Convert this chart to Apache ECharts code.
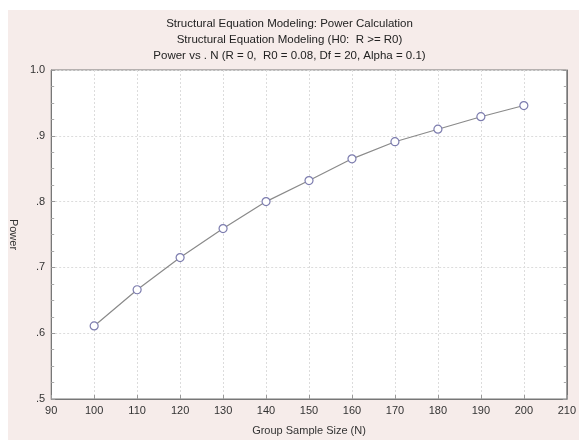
<!doctype html>
<html>
<head>
<meta charset="UTF-8">
<title>Power vs N</title>
<script src="https://cdn.jsdelivr.net/npm/echarts@6/dist/echarts.min.js"></script>
<style>
  html, body { margin: 0; padding: 0; background: #fff; }
  #main { width: 579px; height: 441px; }
</style>
</head>
<body>
<div id="main"></div>
<script>
// data
var sampleSize = [100, 110, 120, 130, 140, 150, 160, 170, 180, 190, 200];
var power = [0.611, 0.666, 0.715, 0.759, 0.800, 0.832, 0.865, 0.891, 0.910, 0.929, 0.946];
var titleLines = [
    'Structural Equation Modeling: Power Calculation',
    'Structural Equation Modeling (H0:  R >= R0)',
    'Power vs . N (R = 0,  R0 = 0.08, Df = 20, Alpha = 0.1)'
];

var font = 'Liberation Sans';
var chart = echarts.init(document.getElementById('main'));

var points = sampleSize.map(function (n, i) { return [n, power[i]]; });

var option = {
    backgroundColor: '#ffffff',
    animation: false,
    graphic: [{
        type: 'rect',
        z: -10,
        shape: { x: 8, y: 10, width: 571, height: 430 },
        style: { fill: '#f6ecea' }
    }],
    title: {
        text: titleLines.join('\n'),
        left: 'center',
        top: 11,
        textStyle: { fontFamily: font, fontSize: 11.5, fontWeight: 'normal', color: '#222', lineHeight: 16 }
    },
    grid: { left: 49, top: 70, right: 11, bottom: 41, show: true, backgroundColor: '#ffffff', borderColor: '#777', borderWidth: 1 },
    xAxis: {
        type: 'value',
        min: 90, max: 210, interval: 10,
        name: 'Group Sample Size (N)',
        nameLocation: 'middle',
        nameGap: 26,
        nameTextStyle: { fontFamily: font, fontSize: 11, color: '#333' },
        axisLine: { show: true, lineStyle: { color: '#777' } },
        axisTick: { inside: true, length: 4, lineStyle: { color: '#999' } },
        axisLabel: { fontFamily: font, fontSize: 11, color: '#333', margin: 6 },
        splitLine: { show: true, lineStyle: { color: '#dcdcdc', type: [2, 2] } }
    },
    yAxis: [{
        type: 'value',
        min: 0.5, max: 1.0, interval: 0.1,
        name: 'Power',
        nameLocation: 'middle',
        nameRotate: -90,
        nameGap: 27,
        nameTextStyle: { fontFamily: font, fontSize: 11, color: '#333' },
        axisLine: { show: true, lineStyle: { color: '#777' } },
        axisTick: { inside: true, length: 4, lineStyle: { color: '#999' } },
        minorTick: { show: true, splitNumber: 4, length: 3, lineStyle: { color: '#aaa' } },
        axisLabel: {
            fontFamily: font, fontSize: 11, color: '#333', margin: 6,
            formatter: function (v) { return v >= 1 ? '1.0' : v.toFixed(1).replace(/^0/, ''); }
        },
        splitLine: { show: true, lineStyle: { color: '#dcdcdc', type: [2, 2] } }
    }, {
        type: 'value',
        position: 'right',
        min: 0.5, max: 1.0, interval: 0.1,
        axisLine: { show: true, lineStyle: { color: '#777' } },
        axisTick: { inside: true, length: 4, lineStyle: { color: '#999' } },
        minorTick: { show: true, splitNumber: 4, length: 3, lineStyle: { color: '#aaa' } },
        axisLabel: { show: false },
        splitLine: { show: false }
    }],
    series: [{
        type: 'line',
        data: points,
        symbol: 'circle',
        symbolSize: 8,
        showSymbol: true,
        lineStyle: { color: '#8a8a8a', width: 1.2 },
        itemStyle: { color: '#ffffff', borderColor: '#7c7cae', borderWidth: 1.2 }
    }]
};
chart.setOption(option);
</script>
</body>
</html>
